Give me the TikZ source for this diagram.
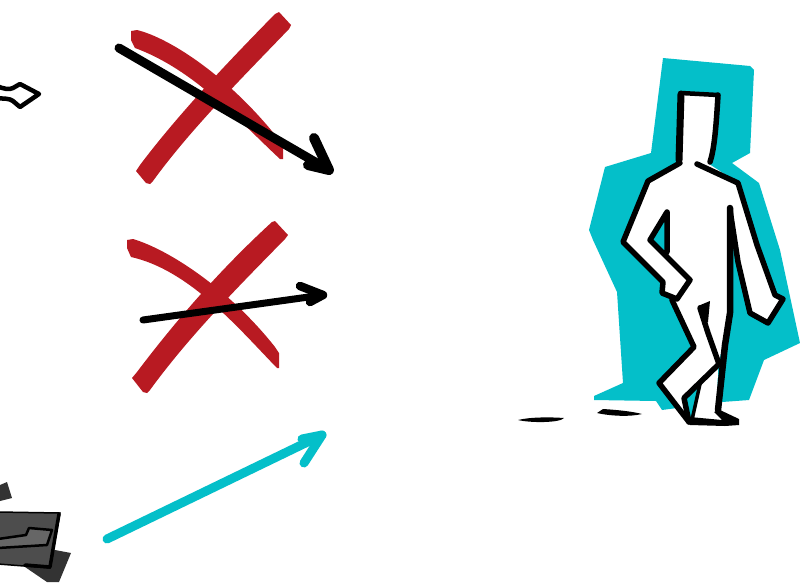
\documentclass[tikz,border=0pt]{standalone}
\usepackage{xcolor}
\usepackage{tikz}
\usetikzlibrary{
  arrows.meta,
  calc,
}
\definecolor{crossred}{HTML}{B81A22}
\definecolor{figteal}{HTML}{04BFC9}
\definecolor{boxgrey}{HTML}{4D4D4D}
\definecolor{patchgrey}{HTML}{333333}
\definecolor{innergrey}{HTML}{666666}

\begin{document}
\begin{tikzpicture}[
    x=1pt, y=-1pt,
    crossmark/.style={fill=crossred, draw=none},
    blackarrow/.style={draw=black, line width=#1, line cap=round, line join=round},
    tealarrow/.style={draw=figteal, line width=9pt, line cap=round, line join=round},
    outline/.style={draw=black, line width=#1, line join=round, line cap=round},
    inkfill/.style={fill=black, draw=none},
  ]
  \useasboundingbox (0,0) rectangle (800,582);
  \clip (0,0) rectangle (800,582);

  % left icon
  \draw[outline=4.5pt] (-3,86) .. controls (4,89) and (9,90) .. (13,88)
    -- (20,84) -- (39,94) -- (20,107) -- (13,101)
    .. controls (9,98) and (4,99) .. (-3,98);

  % first cross
  \fill[crossmark] (136,171) -- (140,165) .. controls (180,112) and (230,60) .. (275,14)
    -- (279,12) -- (291,25) -- (289,29) .. controls (240,80) and (190,130) .. (153,181)
    -- (150,184) -- (146,183) -- cycle;
  \fill[crossmark] (131,31) -- (137,30) .. controls (170,38) and (232,78) .. (283,145)
    -- (283,159) -- (280,159) .. controls (240,122) and (195,70) .. (135,48)
    -- (131,40) -- cycle;
  \coordinate (start1) at (119,48);
  \coordinate (tip1) at (329,170);
  \coordinate (left1) at (314,138);
  \coordinate (right1) at (308,165);
  \draw[blackarrow=9pt] (start1) -- (tip1);
  \draw[blackarrow=10pt] (left1) -- (tip1) -- (right1);

  % second cross
  \fill[crossmark] (132,378) -- (137,372) .. controls (180,315) and (225,265) .. (272,222)
    -- (275,221) -- (288,235) -- (285,239) .. controls (240,285) and (190,335) .. (150,390)
    -- (147,393) -- (143,392) -- cycle;
  \fill[crossmark] (127,240) -- (133,239) .. controls (170,250) and (230,290) .. (275,347)
    -- (279,353) -- (279,368) -- (277,368) .. controls (240,330) and (190,270) .. (131,257)
    -- (127,248) -- cycle;
  \coordinate (start2) at (143,320);
  \coordinate (tip2) at (323,295);
  \coordinate (left2) at (300,286);
  \coordinate (right2) at (310,302);
  \draw[blackarrow=7pt] (start2) -- (tip2);
  \draw[blackarrow=8.5pt] (left2) -- (tip2) -- (right2);

  % third arrow
  \coordinate (start3) at (107,539);
  \coordinate (tip3) at (322,435);
  \coordinate (left3) at (302,439);
  \coordinate (right3) at (304,463);
  \draw[tealarrow] (start3) -- (tip3);
  \draw[tealarrow] (left3) -- (tip3) -- (right3);

  % bottom left box
  \fill[patchgrey] (0,485) -- (7,482) -- (12,498) -- (0,501) -- cycle;
  \fill[patchgrey] (55,550) -- (71,553) -- (59,582) -- (47,582) -- (25,567) -- cycle;
  \filldraw[fill=boxgrey, draw=black, line width=1.5pt] (-2,512) -- (60,513) -- (50,568) -- (-2,564) -- cycle;
  \draw[outline=3.5pt] (59,514) -- (50,567) -- (25,565);
  \filldraw[fill=innergrey, outline=2.5pt] (-2,539) -- (26,535) -- (29,528) -- (52,530) -- (47,545) -- (-2,548);

  % backdrop of the figure
  \fill[figteal] (663,58) -- (750,66) -- (754,70) -- (750,153) -- (732,163) -- (759,183)
    -- (780,250) -- (800,343) -- (764,360) -- (749,400) -- (722,402) -- (662,410)
    -- (656,401) -- (594,400) -- (594,396) -- (623,383) -- (617,292) -- (593,240)
    -- (589,230) -- (605,167) -- (651,153) -- cycle;

  % figure
  \fill[white] (680,92) -- (719,94) -- (709,164) -- (738,183) -- (757,250) -- (775,295)
    -- (784,299) -- (768,324) -- (750,313) -- (733,240) -- (730,313) -- (718,366)
    -- (717,413) -- (738,423) -- (689,423) -- (658,383) -- (694,347) -- (672,300)
    -- (662,293) -- (663,282) -- (622,242) -- (648,180) -- (679,162) -- cycle;
  \fill[figteal] (668,212) -- (652,240) -- (668,255) -- cycle;
  \fill[figteal] (684,398) -- (700,384) -- (691,420) -- cycle;

  \draw[outline=4.5pt] (681,93) -- (718,95);
  \draw[outline=5.5pt] (718,95) .. controls (716,130) and (714,150) .. (710,162);
  \draw[outline=7pt] (681,94) -- (679,160);
  \draw[outline=5.5pt] (680,163) -- (648,181) -- (623,242) -- (663,282) -- (662,293) -- (677,299) -- (690,280) -- (650,240) -- (667,212) -- (667,252);
  \draw[outline=5.5pt] (697,164) -- (738,183) -- (757,245) -- (775,295) -- (783,299) -- (768,323) -- (750,313) -- (738,262) -- (730,210);
  \draw[outline=5.5pt] (672,300) -- (694,347) -- (659,383) -- (689,422);
  \draw[outline=6.5pt] (718,410) -- (725,345) -- (730,313) -- (730,208);
  \draw[outline=5.5pt] (700,308) -- (708,333) -- (719,364) -- (684,398) -- (689,422);
  \draw[outline=3.5pt] (700,384) -- (692,420);
  \fill[inkfill] (710,301) -- (698,306) -- (703,325) -- (708,322) -- cycle;
  \fill[inkfill] (714,412) -- (720,410) -- (739,419) -- (739,425) -- (725,426) -- (690,425)
    -- (690,417) -- (722,420) -- cycle;

  % shadows
  \fill[inkfill] (518,420) .. controls (530,417) and (550,417) .. (564,418)
    .. controls (560,423) and (530,423) .. (518,420) -- cycle;
  \fill[inkfill] (597,413) -- (603,409) .. controls (620,410) and (635,412) .. (642,414)
    .. controls (630,417) and (610,416) .. (597,413) -- cycle;
\end{tikzpicture}
\end{document}
